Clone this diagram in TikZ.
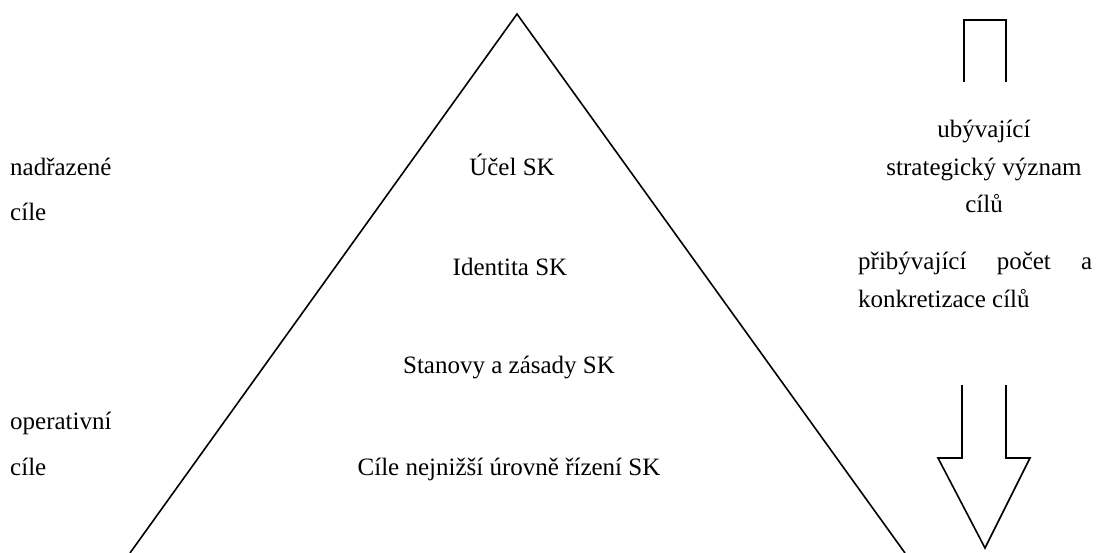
\documentclass[tikz,border=0pt]{standalone}
\usepackage{fontspec}
\setmainfont{Liberation Serif}
\begin{document}
\begin{tikzpicture}[x=1pt,y=-1pt,
  lbl/.style={inner sep=0pt,anchor=base,font=\fontsize{25}{30}\selectfont},
  lbll/.style={inner sep=0pt,anchor=base west,font=\fontsize{25}{30}\selectfont},
  shape line/.style={draw=black,line width=1.6pt,line join=miter}]
\useasboundingbox (0,0) rectangle (1103,552);
% pyramid
\coordinate (apex) at (517,14);
\coordinate (bl) at (130,553);
\coordinate (br) at (905,553);
\draw[shape line] (bl) -- (apex) -- (br);
% pyramid texts
\node[lbl] (ucel) at (512,175) {Účel SK};
\node[lbl] (ident) at (510,275) {Identita SK};
\node[lbl] (stan) at (509,373) {Stanovy a zásady SK};
\node[lbl] (cile) at (509,475) {Cíle nejnižší úrovně řízení SK};
% left texts
\node[lbll] (nad1) at (10,175) {nadřazené};
\node[lbll] (nad2) at (10,220) {cíle};
\node[lbll] (op1) at (10,429) {operativní};
\node[lbll] (op2) at (10,475) {cíle};
% right texts
\node[lbl] (r1) at (984,137) {ubývající};
\node[lbl] (r2) at (984,175) {strategický význam};
\node[lbl] (r3) at (984,212) {cílů};
\node[lbll] (r4) at (858,269) {\makebox[234pt][s]{přibývající počet a}};
\node[lbll] (r5) at (858,307) {konkretizace cílů};
% top bracket
\draw[shape line] (964,82) -- (964,20) -- (1006,20) -- (1006,82);
% down arrow
\draw[shape line] (962,385) -- (962,458) -- (938,458) -- (985,548) -- (1030,458) -- (1006,458) -- (1006,385);
\end{tikzpicture}
\end{document}
